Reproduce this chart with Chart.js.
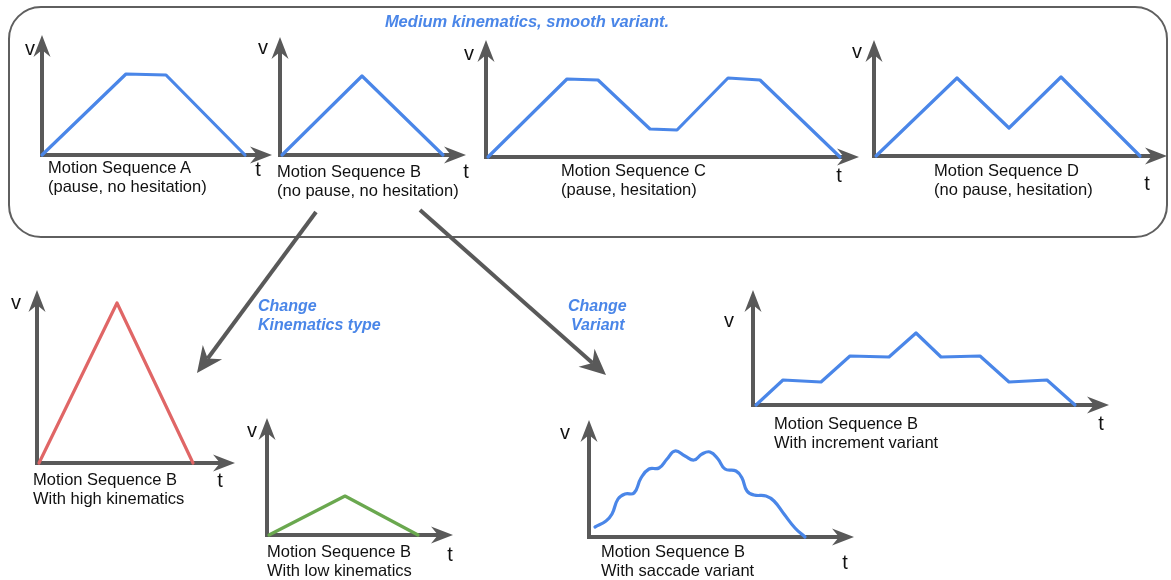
<!DOCTYPE html>
<html><head><meta charset="utf-8">
<script src="https://cdn.jsdelivr.net/npm/chart.js@4.4.1/dist/chart.umd.min.js"></script>
<style>
html,body{margin:0;padding:0;background:#fff;}
#stage{position:relative;width:1171px;height:580px;overflow:hidden;font-family:"Liberation Sans",Arial,sans-serif;}
#stage canvas{position:absolute;left:0;top:0;pointer-events:none;}
#deco{position:absolute;left:0;top:0;}
.lbl{position:absolute;white-space:nowrap;color:#111;}
</style></head><body>
<div id="stage"><svg id="deco" width="1171" height="580" xmlns="http://www.w3.org/2000/svg"></svg></div>
<script>
// ---------- data (t = time, v = velocity) ----------
const seqA_t = [0, 84, 124, 203];
const seqA_v = [0, 81, 80, 0];
const seqB_t = [2, 82, 163];
const seqB_v = [0, 79, 0];
const seqC_t = [2, 81, 112, 164, 191, 242, 274, 354];
const seqC_v = [0, 78, 77, 28, 27, 79, 77, 0];
const seqD_t = [2, 83, 135, 187, 266];
const seqD_v = [0, 78, 28, 79, 0];
const highK_t = [2, 80, 156];
const highK_v = [0, 160, 0];
const lowK_t = [2, 78, 151];
const lowK_v = [0, 39, 0];
const incr_t = [3, 30, 68, 97, 136, 163, 188, 227, 256, 294, 322];
const incr_v = [0, 25, 23, 49, 48, 72, 48, 49, 23, 25, 0];
const sacc_t = [6, 17, 23, 29, 36, 45, 52, 60, 70, 78, 86, 96, 105, 113, 121, 129, 136, 147, 153, 158, 165, 177, 185, 195, 206, 216];
const sacc_v = [10, 16, 23, 38, 43, 44, 59, 68, 69, 78, 86, 81, 77, 83, 85, 78, 68, 66, 59, 46, 42, 41, 36, 23, 9, 0];
// axis extents of each panel (t max, v max)
const axisTMax = [230, 186, 373, 293, 198, 186, 356, 265];
const axisVMax = [120, 118, 117, 116, 173, 117, 115, 117];
// captions
const captionsLine1 = ["Motion Sequence A", "Motion Sequence B", "Motion Sequence C", "Motion Sequence D",
  "Motion Sequence B", "Motion Sequence B", "Motion Sequence B", "Motion Sequence B"];
const captionsLine2 = ["(pause, no hesitation)", "(no pause, no hesitation)", "(pause, hesitation)", "(no pause, hesitation)",
  "With high kinematics", "With low kinematics", "With increment variant", "With saccade variant"];
const axisNameV = "v", axisNameT = "t";
const titleText = "Medium kinematics, smooth variant.";
const changeKin = ["Change", "Kinematics type"];
const changeVar = ["Change", "Variant"];

// ---------- layout / styles ----------
const W = 1171, H = 580;
const BLUE = "#4a86e8", RED = "#e06666", GREEN = "#6aa84f", GREY = "#595959";
const panels = [
  {t: seqA_t, v: seqA_v, ox: 42, oy: 155, color: BLUE, vPos: [30, 50], tPos: [258, 169], cap: [48, 167]},
  {t: seqB_t, v: seqB_v, ox: 280, oy: 155, color: BLUE, vPos: [263, 49], tPos: [466, 171], cap: [277, 171]},
  {t: seqC_t, v: seqC_v, ox: 486, oy: 157, color: BLUE, vPos: [469, 55], tPos: [839, 175], cap: [561, 170]},
  {t: seqD_t, v: seqD_v, ox: 874, oy: 156, color: BLUE, vPos: [857, 53], tPos: [1147, 183], cap: [934, 170]},
  {t: highK_t, v: highK_v, ox: 37, oy: 463, color: RED, vPos: [16, 304], tPos: [220, 480], cap: [33, 479]},
  {t: lowK_t, v: lowK_v, ox: 267, oy: 535, color: GREEN, vPos: [252, 432], tPos: [450, 554], cap: [267, 551]},
  {t: incr_t, v: incr_v, ox: 753, oy: 405, color: BLUE, vPos: [729, 322], tPos: [1101, 423], cap: [774, 423]},
  {t: sacc_t, v: sacc_v, ox: 589, oy: 537, color: BLUE, vPos: [565, 434], tPos: [845, 562], cap: [601, 551], smooth: true}
];

const stage = document.getElementById('stage');

function arrowPath(ctx, x1, y1, x2, y2, lw, headLen, headHalf, notch, color) {
  const dx = x2 - x1, dy = y2 - y1, L = Math.hypot(dx, dy);
  const ux = dx / L, uy = dy / L, nx = -uy, ny = ux;
  ctx.save();
  ctx.strokeStyle = color; ctx.fillStyle = color; ctx.lineWidth = lw; ctx.lineCap = 'butt';
  ctx.beginPath(); ctx.moveTo(x1, y1);
  ctx.lineTo(x2 - ux * (headLen - notch), y2 - uy * (headLen - notch)); ctx.stroke();
  ctx.beginPath();
  ctx.moveTo(x2, y2);
  ctx.lineTo(x2 - ux * headLen + nx * headHalf, y2 - uy * headLen + ny * headHalf);
  ctx.lineTo(x2 - ux * (headLen - notch), y2 - uy * (headLen - notch));
  ctx.lineTo(x2 - ux * headLen - nx * headHalf, y2 - uy * headLen - ny * headHalf);
  ctx.closePath(); ctx.fill();
  ctx.restore();
}

const axesPlugin = {
  id: 'arrowAxes',
  beforeDatasetsDraw(chart) {
    const xs = chart.scales.x, ys = chart.scales.y, ctx = chart.ctx;
    const x0 = xs.getPixelForValue(0), y0 = ys.getPixelForValue(0);
    const xt = xs.getPixelForValue(xs.max), yt = ys.getPixelForValue(ys.max);
    arrowPath(ctx, x0, y0 + 2, x0, yt, 4, 22, 8.5, 7, GREY);
    arrowPath(ctx, x0 - 2, y0, xt, y0, 4, 22, 8.5, 7, GREY);
  }
};

function addLabel(text, x, cy, size, opts = {}) {
  const d = document.createElement('div');
  d.className = 'lbl';
  d.textContent = text;
  d.style.fontSize = size + 'px';
  d.style.lineHeight = size + 'px';
  if (opts.bold) d.style.fontWeight = 'bold';
  if (opts.italic) d.style.fontStyle = 'italic';
  if (opts.color) d.style.color = opts.color;
  const off = opts.xheight ? 0.59 : 0.49;
  d.style.top = (cy - off * size) + 'px';
  if (opts.center) { d.style.left = x + 'px'; d.style.transform = 'translateX(-50%)'; }
  else d.style.left = x + 'px';
  stage.appendChild(d);
}

panels.forEach((p, i) => {
  const c = document.createElement('canvas');
  c.width = W; c.height = H; c.style.width = W + 'px'; c.style.height = H + 'px';
  stage.appendChild(c);
  const tmax = axisTMax[i], vmax = axisVMax[i];
  new Chart(c, {
    type: 'line',
    data: {
      datasets: [{
        data: p.t.map((t, k) => ({x: t, y: p.v[k]})),
        borderColor: p.color, borderWidth: 3.2, pointRadius: 0, fill: false,
        borderJoinStyle: 'round', borderCapStyle: 'round',
        tension: p.smooth ? 0.45 : 0,
        clip: false
      }]
    },
    options: {
      responsive: false, animation: false, events: [],
      layout: {padding: {left: p.ox, top: p.oy - vmax, right: W - (p.ox + tmax), bottom: H - p.oy}},
      scales: {
        x: {type: 'linear', display: false, min: 0, max: tmax},
        y: {type: 'linear', display: false, min: 0, max: vmax}
      },
      plugins: {legend: {display: false}, tooltip: {enabled: false}}
    },
    plugins: [axesPlugin]
  });
  addLabel(axisNameV, p.vPos[0], p.vPos[1], 20, {center: true, xheight: true});
  addLabel(axisNameT, p.tPos[0], p.tPos[1], 20, {center: true});
  addLabel(captionsLine1[i], p.cap[0], p.cap[1], 16.5);
  addLabel(captionsLine2[i], p.cap[0], p.cap[1] + 19, 16.5);
});

// decorations: frame and connector arrows
const svg = document.getElementById('deco');
const NS = 'http://www.w3.org/2000/svg';
function el(tag, attrs) { const e = document.createElementNS(NS, tag); for (const k in attrs) e.setAttribute(k, attrs[k]); svg.appendChild(e); return e; }
el('rect', {x: 9, y: 7, width: 1158, height: 230, rx: 32, ry: 32, fill: 'none', stroke: '#5f5f5f', 'stroke-width': 2});
function svgArrow(x1, y1, x2, y2, lw, headLen, headHalf, notch) {
  const dx = x2 - x1, dy = y2 - y1, L = Math.hypot(dx, dy);
  const ux = dx / L, uy = dy / L, nx = -uy, ny = ux;
  el('line', {x1, y1, x2: x2 - ux * (headLen - notch), y2: y2 - uy * (headLen - notch), stroke: GREY, 'stroke-width': lw});
  const pts = [[x2, y2], [x2 - ux * headLen + nx * headHalf, y2 - uy * headLen + ny * headHalf],
    [x2 - ux * (headLen - notch), y2 - uy * (headLen - notch)], [x2 - ux * headLen - nx * headHalf, y2 - uy * headLen - ny * headHalf]];
  el('polygon', {points: pts.map(q => q.join(',')).join(' '), fill: GREY});
}
svgArrow(316, 212, 197, 373, 4, 26, 12, 8);
svgArrow(420, 210, 606, 375, 4, 26, 12, 8);

addLabel(titleText, 527, 21, 16.5, {bold: true, italic: true, color: BLUE, center: true});
addLabel(changeKin[0], 258, 306, 16, {bold: true, italic: true, color: BLUE});
addLabel(changeKin[1], 258, 325, 16, {bold: true, italic: true, color: BLUE});
addLabel(changeVar[0], 568, 306, 16, {bold: true, italic: true, color: BLUE});
addLabel(changeVar[1], 571, 325, 16, {bold: true, italic: true, color: BLUE});
</script>
</body></html>
